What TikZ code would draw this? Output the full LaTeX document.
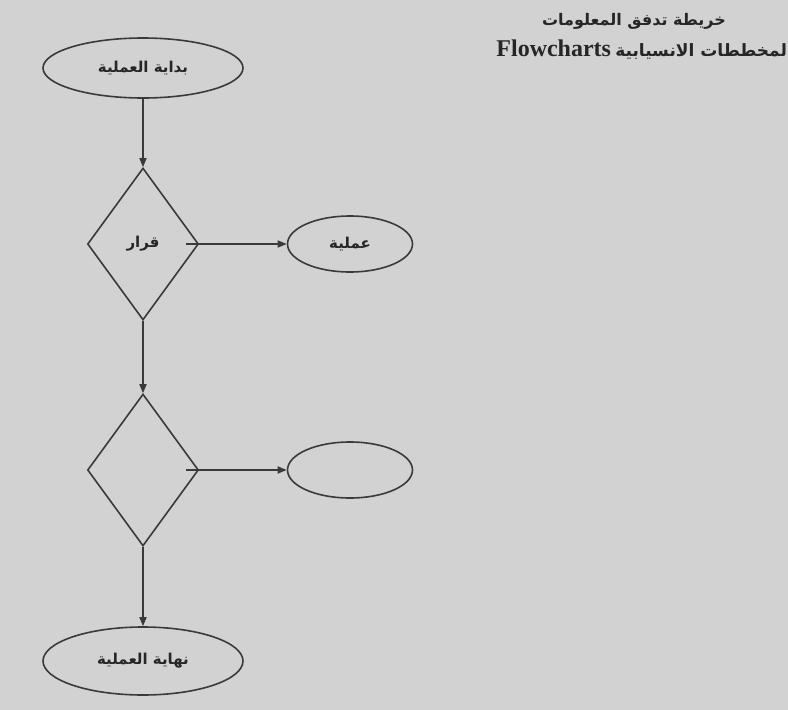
\documentclass[tikz,border=0pt]{standalone}
\usepackage{fontspec}
\setmainfont{Liberation Serif}
\newfontfamily\arabicfont[Script=Arabic]{DejaVu Sans}
\TeXXeTstate=1
\usetikzlibrary{shapes.geometric,arrows.meta}
\definecolor{paper}{RGB}{210,210,210}
\definecolor{ink}{RGB}{58,58,58}
\tikzset{
  shapeline/.style={draw=ink, line width=1.6pt, inner sep=0pt},
  symboltext/.style={font=\arabicfont\bfseries\fontsize{15}{17}\selectfont, text=black!85},
  terminal/.style={shapeline, symboltext, ellipse, minimum width=200pt, minimum height=60pt},
  process/.style={shapeline, symboltext, ellipse, minimum width=125pt, minimum height=56pt},
  decision/.style={shapeline, symboltext, diamond, minimum width=111pt, minimum height=152pt},
  flow/.style={draw=ink, line width=1.6pt, -{Triangle[length=9pt,width=7pt]}},
  heading/.style={inner sep=0pt, text=black!85, font=\bfseries\fontsize{16}{19}\selectfont}
}
\begin{document}
\begin{tikzpicture}[x=1pt,y=-1pt]
  % page and background
  \fill[paper] (0,0) rectangle (788,710);
  \useasboundingbox (0,0) rectangle (788,710);

  % heading (right-to-left lines)
  \node[heading, anchor=base] (title1) at (634,25)
    {\arabicfont\beginR خريطة تدفق المعلومات\endR};
  \node[heading, anchor=base east, font=\bfseries\fontsize{17}{20}\selectfont] (title2) at (793,56)
    {\beginR{\arabicfont المخططات الانسيابية} \beginL{\rmfamily\fontsize{24}{27}\selectfont Flowcharts}\endL\endR};

  % flowchart symbols
  \node[terminal] (start) at (143,68) {\beginR بداية العملية\endR};
  \node[decision] (dec1) at (143,244) {قرار};
  \node[process] (proc1) at (350,244) {عملية};
  \node[decision] (dec2) at (143,470) {};
  \node[process] (proc2) at (350,470) {};
  \node[terminal, minimum height=68pt] (stop) at (143,661) {\beginR نهاية العملية\endR};

  % connectors
  \draw[flow] (start) -- (dec1);
  \draw[flow] ([xshift=-13pt]dec1.east) -- (proc1.west);
  \draw[flow] (dec1) -- (dec2);
  \draw[flow] ([xshift=-13pt]dec2.east) -- (proc2.west);
  \draw[flow] (dec2) -- (stop);
\end{tikzpicture}
\end{document}
